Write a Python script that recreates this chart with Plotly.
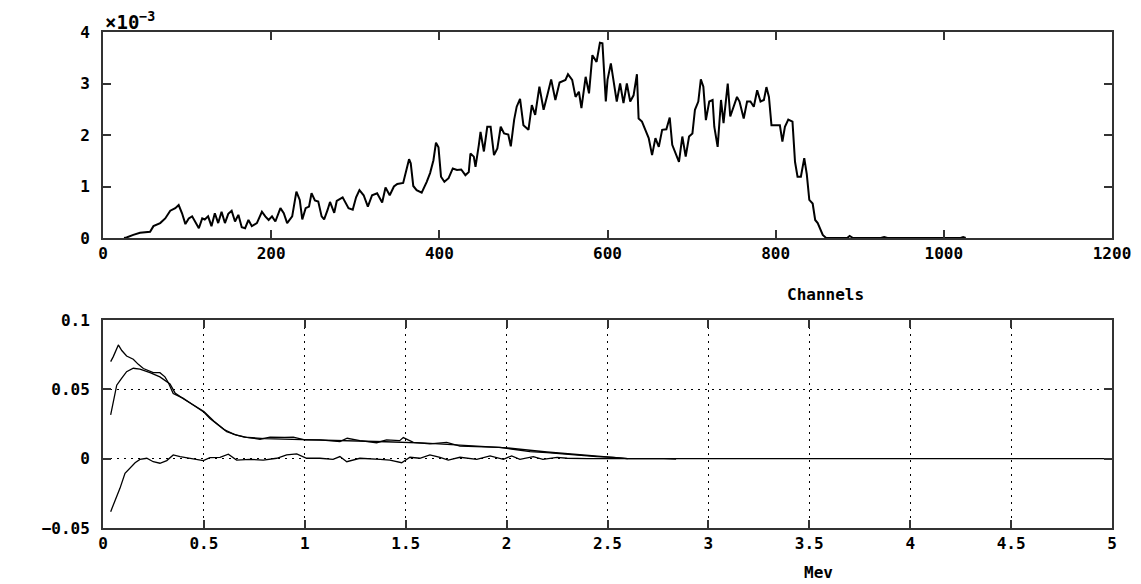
import plotly.graph_objects as go

# ---- Top panel: spectrum vs channel (values in units of 1e-3) ----
channels = [25, 28, 36, 44, 56, 60, 68, 74, 80, 86, 90, 94, 98, 102, 106, 110, 114, 118, 121, 125,
            129, 133, 137, 141, 145, 149, 153, 157, 161, 165, 169, 173, 177, 183, 189, 193, 197, 201,
            205, 211, 215, 219, 225, 230, 234, 237, 241, 245, 248, 252, 256, 260, 263, 267, 270, 275,
            278, 285, 292, 297, 301, 305, 310, 315, 320, 326, 332, 336, 341, 346, 350, 357, 361, 364,
            366, 369, 373, 379, 385, 389, 393, 396, 399, 402, 406, 411, 416, 421, 426, 431, 435, 437,
            441, 443, 447, 449, 453, 457, 461, 465, 469, 473, 477, 482, 485, 489, 492, 496, 500, 506,
            510, 514, 519, 524, 529, 533, 538, 543, 550, 553, 558, 562, 566, 569, 574, 578, 582, 587,
            591, 594, 598, 600, 604, 607, 611, 615, 619, 623, 627, 631, 635, 637, 641, 645, 649, 653,
            657, 661, 665, 670, 674, 677, 681, 685, 689, 693, 697, 701, 704, 708, 711, 714, 717, 721,
            725, 727, 731, 735, 738, 740, 743, 746, 750, 754, 757, 762, 766, 770, 774, 778, 782, 786,
            789, 792, 795, 800, 805, 808, 811, 815, 820, 823, 826, 830, 834, 837, 840, 844, 847, 850,
            853, 856, 860, 885, 888, 892, 925, 929, 933, 1020, 1023, 1026]
counts_e3 = [0.0, 0.01, 0.06, 0.10, 0.12, 0.23, 0.29, 0.38, 0.53, 0.58, 0.64, 0.48, 0.27, 0.38, 0.42, 0.29,
             0.19, 0.38, 0.36, 0.42, 0.23, 0.48, 0.29, 0.51, 0.29, 0.47, 0.53, 0.32, 0.45, 0.21, 0.19,
             0.35, 0.23, 0.29, 0.51, 0.42, 0.35, 0.42, 0.32, 0.58, 0.48, 0.29, 0.42, 0.90, 0.74, 0.36,
             0.58, 0.61, 0.87, 0.73, 0.71, 0.42, 0.36, 0.54, 0.70, 0.49, 0.72, 0.79, 0.58, 0.55, 0.79,
             0.93, 0.83, 0.61, 0.83, 0.87, 0.69, 0.98, 0.83, 1.00, 1.05, 1.07, 1.32, 1.53, 1.45, 1.01,
             0.93, 0.88, 1.09, 1.26, 1.51, 1.85, 1.76, 1.19, 1.09, 1.16, 1.35, 1.32, 1.33, 1.22, 1.28,
             1.64, 1.58, 1.38, 1.81, 2.06, 1.68, 2.16, 2.16, 1.61, 1.74, 2.16, 2.03, 2.01, 1.78, 2.30,
             2.55, 2.70, 2.19, 2.10, 2.58, 2.39, 2.94, 2.49, 2.81, 3.08, 2.68, 3.02, 3.07, 3.18, 3.07,
             2.74, 2.84, 2.52, 3.13, 2.81, 3.55, 3.42, 3.79, 3.78, 2.65, 3.07, 3.39, 3.05, 2.65, 3.00,
             2.62, 3.00, 2.65, 2.77, 3.18, 2.32, 2.26, 2.10, 1.94, 1.61, 1.94, 1.77, 2.10, 2.11, 2.34,
             1.81, 1.66, 1.48, 1.97, 1.58, 1.97, 2.03, 2.49, 2.65, 3.08, 2.94, 2.29, 2.65, 2.68, 2.16,
             1.77, 2.68, 2.23, 2.55, 3.00, 2.36, 2.55, 2.74, 2.65, 2.32, 2.65, 2.65, 2.55, 2.87, 2.65,
             2.68, 2.93, 2.74, 2.19, 2.19, 2.19, 1.87, 2.16, 2.30, 2.26, 1.48, 1.19, 1.19, 1.55, 1.24,
             0.74, 0.67, 0.35, 0.29, 0.16, 0.06, 0.0, 0.0, 0.04, 0.0, 0.0, 0.02, 0.0, 0.0, 0.02, 0.0]
top_xticks = [0, 200, 400, 600, 800, 1000, 1200]
top_yticks = [0, 1, 2, 3, 4]

# ---- Bottom panel: curves vs energy (MeV) ----
mev_a = [0.038, 0.051, 0.076, 0.093, 0.117, 0.150, 0.175, 0.200, 0.249, 0.282, 0.307, 0.324, 0.348,
         0.398, 0.447, 0.497, 0.530, 0.563, 0.613, 0.662, 0.712, 0.778, 0.828, 0.900, 0.943, 1.000,
         1.075, 1.174, 1.210, 1.273, 1.356, 1.405, 1.470, 1.488, 1.538, 1.620, 1.703, 1.769, 1.868,
         1.967, 2.033, 2.116, 2.200, 2.280, 2.364, 2.446, 2.530, 2.560, 2.600, 2.780, 2.840]
val_a = [0.0700, 0.0736, 0.0820, 0.0780, 0.0740, 0.0717, 0.0680, 0.0650, 0.0620, 0.0620, 0.0590,
         0.0548, 0.0470, 0.0435, 0.0387, 0.0339, 0.0290, 0.0250, 0.0195, 0.0170, 0.0154, 0.0140,
         0.0155, 0.0154, 0.0155, 0.0135, 0.0135, 0.0123, 0.0147, 0.0130, 0.0115, 0.0135, 0.0130,
         0.0152, 0.0118, 0.0106, 0.0118, 0.0091, 0.0087, 0.0082, 0.0068, 0.0051, 0.0044, 0.0034,
         0.0022, 0.0015, 0.0010, 0.0007, 0.0, 0.0, -0.0003]
mev_b = [0.038, 0.051, 0.068, 0.093, 0.117, 0.150, 0.183, 0.233, 0.282, 0.332, 0.357, 0.400, 0.450,
         0.500, 0.550, 0.600, 0.650, 0.700, 0.800, 0.900, 1.000, 1.200, 1.400, 1.600, 1.800, 2.000,
         2.200, 2.400, 2.500, 2.600]
val_b = [0.0315, 0.0400, 0.0530, 0.0580, 0.0627, 0.0652, 0.0645, 0.0620, 0.0590, 0.0539, 0.0474,
         0.0430, 0.0385, 0.0340, 0.0270, 0.0210, 0.0175, 0.0155, 0.0145, 0.0142, 0.0135, 0.0128,
         0.0122, 0.0112, 0.0095, 0.0078, 0.0048, 0.0022, 0.0010, 0.0]
mev_c = [0.038, 0.059, 0.084, 0.109, 0.134, 0.159, 0.183, 0.217, 0.249, 0.282, 0.316, 0.348, 0.382,
         0.431, 0.481, 0.497, 0.530, 0.580, 0.621, 0.662, 0.728, 0.794, 0.861, 0.910, 0.960, 1.009,
         1.075, 1.140, 1.174, 1.208, 1.273, 1.339, 1.373, 1.422, 1.480, 1.521, 1.570, 1.620, 1.670,
         1.711, 1.769, 1.852, 1.918, 1.984, 2.025, 2.066, 2.132, 2.180, 2.250, 2.300, 2.400, 5.000]
val_c = [-0.0382, -0.0310, -0.0214, -0.0105, -0.0069, -0.0029, -0.0005, 0.0003, -0.0022, -0.0033,
         -0.0014, 0.0027, 0.0015, 0.0003, -0.0005, -0.0014, 0.0008, 0.0010, 0.0032, -0.0010, -0.0005,
         -0.0010, 0.0003, 0.0027, 0.0034, 0.0003, 0.0003, -0.0005, 0.0015, -0.0022, 0.0003, 0.0,
         -0.0005, -0.0010, -0.0029, 0.0010, 0.0003, 0.0027, 0.0010, -0.0010, 0.0010, -0.0005, 0.0020,
         -0.0005, 0.0020, -0.0005, 0.0015, -0.0005, 0.0010, 0.0003, 0.0, 0.0]
bot_xticks = [0, 0.5, 1, 1.5, 2, 2.5, 3, 3.5, 4, 4.5, 5]
bot_xlabels = ["0", "0.5", "1", "1.5", "2", "2.5", "3", "3.5", "4", "4.5", "5"]
bot_yticks = [-0.05, 0, 0.05, 0.1]
bot_ylabels = ["\u22120.05", "0", "0.05", "0.1"]

W, H = 1141, 584
L, R = 103, 1112
FONT = dict(family="DejaVu Sans Mono", size=16, color="black", weight="bold")
AX = "#333333"

fig = go.Figure()
fig.add_trace(go.Scatter(x=channels, y=counts_e3, mode="lines", xaxis="x", yaxis="y",
                         line=dict(color="black", width=2), showlegend=False))
for xs, ys in [(mev_a, val_a), (mev_b, val_b), (mev_c, val_c)]:
    fig.add_trace(go.Scatter(x=xs, y=ys, mode="lines", xaxis="x2", yaxis="y2",
                             line=dict(color="black", width=1.3), showlegend=False))

common = dict(showline=True, linecolor=AX, linewidth=2, mirror="ticks", ticks="inside",
              ticklen=8, tickwidth=2, tickcolor=AX, tickfont=FONT, zeroline=False,
              automargin=False)

fig.update_layout(
    width=W, height=H, margin=dict(l=0, r=0, t=0, b=0, autoexpand=False),
    paper_bgcolor="white", plot_bgcolor="white",
    xaxis=dict(domain=[L / W, R / W], range=[0, 1200], tickvals=top_xticks,
               showgrid=False, anchor="y", **common),
    yaxis=dict(domain=[1 - 238 / H, 1 - 32 / H], range=[0, 4], tickvals=top_yticks,
               showgrid=False, anchor="x", ticklabelstandoff=8, **common),
    xaxis2=dict(domain=[L / W, R / W], range=[0, 5], tickvals=bot_xticks, ticktext=bot_xlabels,
                showgrid=True, gridcolor="black", gridwidth=1, griddash="2px,5px",
                anchor="y2", **common),
    yaxis2=dict(domain=[1 - 528 / H, 1 - 320 / H], range=[-0.05, 0.1], tickvals=bot_yticks,
                ticktext=bot_ylabels, showgrid=True, gridcolor="black", gridwidth=1,
                griddash="2px,5px", anchor="x2", ticklabelstandoff=8, **common),
    annotations=[
        dict(text="×10<sup>−3</sup>", x=L / W, y=1 - 21 / H, xref="paper", yref="paper",
             xanchor="left", yanchor="middle", showarrow=False,
             font=dict(family="DejaVu Sans Mono", size=19, color="black", weight="bold")),
        dict(text="Channels", x=825 / W, y=1 - 294 / H, xref="paper", yref="paper",
             xanchor="center", yanchor="middle", showarrow=False, font=FONT),
        dict(text="Mev", x=818 / W, y=1 - 572 / H, xref="paper", yref="paper",
             xanchor="center", yanchor="middle", showarrow=False, font=FONT),
    ],
)

fig.write_html("out.html")
